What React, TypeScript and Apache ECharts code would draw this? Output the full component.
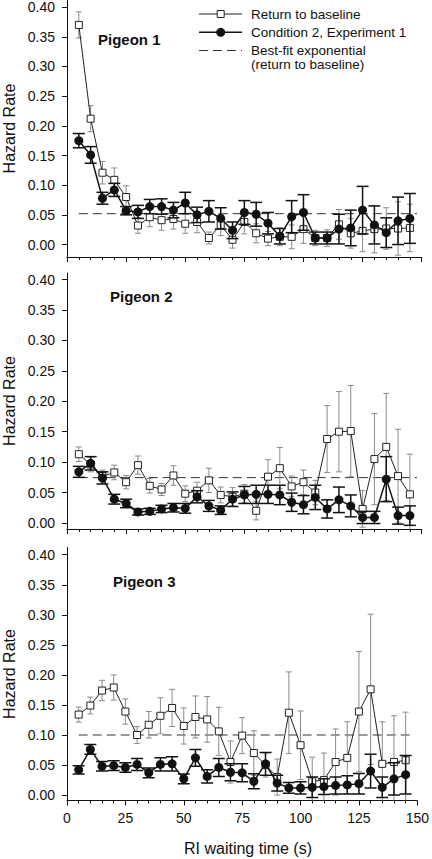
import React, { useEffect, useRef } from "react";
import * as echarts from "echarts";

// RI waiting time (s)
const times = [5, 10, 15, 20, 25, 30, 35, 40, 45, 50, 55, 60, 65, 70, 75, 80, 85, 90, 95, 100, 105, 110, 115, 120, 125, 130, 135, 140, 145];

// Pigeon 1
const p1Base = [0.370, 0.212, 0.121, 0.109, 0.080, 0.032, 0.046, 0.041, 0.043, 0.035, 0.038, 0.011, 0.033, 0.008, 0.038, 0.019, 0.010, 0.013, 0.013, 0.026, 0.011, 0.011, 0.034, 0.019, 0.023, 0.026, 0.027, 0.027, 0.028];
const p1BaseErr = [0.022, 0.022, 0.019, 0.020, 0.019, 0.013, 0.016, 0.017, 0.017, 0.016, 0.018, 0.010, 0.018, 0.014, 0.020, 0.016, 0.012, 0.015, 0.020, 0.024, 0.013, 0.014, 0.025, 0.025, 0.035, 0.040, 0.035, 0.045, 0.040];
const p1Cond = [0.175, 0.151, 0.078, 0.092, 0.057, 0.055, 0.064, 0.064, 0.058, 0.070, 0.050, 0.056, 0.044, 0.024, 0.054, 0.051, 0.036, 0.014, 0.047, 0.054, 0.011, 0.011, 0.026, 0.028, 0.058, 0.033, 0.020, 0.040, 0.044];
const p1CondErr = [0.012, 0.014, 0.010, 0.011, 0.007, 0.011, 0.012, 0.013, 0.013, 0.018, 0.013, 0.018, 0.018, 0.014, 0.020, 0.020, 0.018, 0.013, 0.027, 0.030, 0.010, 0.010, 0.025, 0.030, 0.040, 0.032, 0.025, 0.040, 0.042];

// Pigeon 2
const p2Base = [0.113, 0.096, 0.077, 0.083, 0.067, 0.095, 0.061, 0.055, 0.078, 0.048, 0.053, 0.070, 0.046, 0.043, 0.048, 0.020, 0.076, 0.090, 0.060, 0.067, 0.050, 0.138, 0.150, 0.151, 0.023, 0.105, 0.125, 0.077, 0.047];
const p2BaseErr = [0.012, 0.012, 0.010, 0.012, 0.011, 0.015, 0.012, 0.010, 0.016, 0.013, 0.014, 0.020, 0.013, 0.015, 0.015, 0.015, 0.028, 0.034, 0.017, 0.020, 0.020, 0.055, 0.066, 0.075, 0.030, 0.075, 0.088, 0.077, 0.066];
const p2Cond = [0.084, 0.098, 0.074, 0.039, 0.032, 0.018, 0.019, 0.023, 0.025, 0.024, 0.043, 0.028, 0.021, 0.039, 0.046, 0.047, 0.047, 0.046, 0.034, 0.030, 0.042, 0.023, 0.038, 0.028, 0.009, 0.009, 0.072, 0.012, 0.012];
const p2CondErr = [0.009, 0.011, 0.010, 0.008, 0.007, 0.005, 0.005, 0.006, 0.007, 0.008, 0.010, 0.009, 0.007, 0.012, 0.014, 0.015, 0.015, 0.016, 0.015, 0.015, 0.020, 0.015, 0.021, 0.018, 0.010, 0.010, 0.037, 0.014, 0.016];

// Pigeon 3
const p3Base = [0.134, 0.149, 0.174, 0.179, 0.139, 0.100, 0.117, 0.132, 0.145, 0.115, 0.130, 0.126, 0.106, 0.055, 0.099, 0.070, 0.050, 0.030, 0.137, 0.083, 0.023, 0.025, 0.055, 0.062, 0.139, 0.176, 0.052, 0.055, 0.058];
const p3BaseErr = [0.0125, 0.014, 0.017, 0.021, 0.021, 0.014, 0.022, 0.030, 0.031, 0.030, 0.035, 0.038, 0.040, 0.035, 0.030, 0.037, 0.020, 0.030, 0.068, 0.057, 0.040, 0.045, 0.055, 0.060, 0.100, 0.125, 0.070, 0.077, 0.080];
const p3Cond = [0.042, 0.076, 0.048, 0.049, 0.046, 0.051, 0.037, 0.051, 0.052, 0.027, 0.062, 0.031, 0.046, 0.038, 0.037, 0.023, 0.052, 0.020, 0.012, 0.012, 0.013, 0.014, 0.016, 0.017, 0.019, 0.040, 0.013, 0.027, 0.034];
const p3CondErr = [0.007, 0.008, 0.008, 0.008, 0.008, 0.010, 0.008, 0.011, 0.012, 0.008, 0.014, 0.011, 0.015, 0.014, 0.015, 0.0125, 0.019, 0.013, 0.009, 0.010, 0.017, 0.013, 0.014, 0.015, 0.017, 0.028, 0.017, 0.027, 0.032];

// Best-fit exponential (return to baseline), level per pigeon
const fitLevels = [0.052, 0.0745, 0.1];
const fitRange = [5, 148];

const yTicks = [0, 0.05, 0.1, 0.15, 0.2, 0.25, 0.3, 0.35, 0.4];
const panelNames = ["Pigeon 1", "Pigeon 2", "Pigeon 3"];
const legendNames = ["Return to baseline", "Condition 2, Experiment 1", "Best-fit exponential", "(return to baseline)"];

const panels = [
  { base: p1Base, baseErr: p1BaseErr, cond: p1Cond, condErr: p1CondErr },
  { base: p2Base, baseErr: p2BaseErr, cond: p2Cond, condErr: p2CondErr },
  { base: p3Base, baseErr: p3BaseErr, cond: p3Cond, condErr: p3CondErr },
];

const FONT = "'Liberation Sans', Arial, sans-serif";
const INK = "#111";

// layout
const gridLeft = 67;
const gridWidth = 354.7;
const gridBoxes = [
  { top: 0, height: 257, min: -0.021, max: 0.412 },
  { top: 273, height: 256, min: -0.01, max: 0.411 },
  { top: 547.5, height: 253, min: -0.009, max: 0.412 },
];
const titlePos = [
  [98, 41],
  [110, 298],
  [113, 583],
];

function errorSeries(idx: number, vals: number[], errs: number[], color: string, width: number, cap: number, z: number) {
  return {
    type: "custom",
    xAxisIndex: idx,
    yAxisIndex: idx,
    clip: true,
    z,
    silent: true,
    data: times.map((t, k) => [t, vals[k], errs[k]]),
    renderItem: (params: any, api: any) => {
      const x = api.value(0);
      const y = api.value(1);
      const e = api.value(2);
      const top = api.coord([x, y + e]);
      const bot = api.coord([x, y - e]);
      const h = cap / 2;
      const style = { stroke: color, lineWidth: width };
      return {
        type: "group",
        children: [
          { type: "line", shape: { x1: top[0], y1: top[1], x2: bot[0], y2: bot[1] }, style },
          { type: "line", shape: { x1: top[0] - h, y1: top[1], x2: top[0] + h, y2: top[1] }, style },
          { type: "line", shape: { x1: bot[0] - h, y1: bot[1], x2: bot[0] + h, y2: bot[1] }, style },
        ],
      };
    },
  };
}

export default function App() {
  const ref = useRef<HTMLDivElement>(null);

  useEffect(() => {
    if (!ref.current) return;
    const chart = echarts.init(ref.current, null, { renderer: "svg" });

    const grids = gridBoxes.map((g) => ({ left: gridLeft, width: gridWidth, top: g.top, height: g.height }));

    const xAxes = gridBoxes.map((g, i) => ({
      type: "value",
      gridIndex: i,
      min: 0,
      max: 150,
      interval: 25,
      axisLine: { show: true, onZero: false, lineStyle: { color: INK, width: 1 } },
      axisTick: { show: true, inside: false, length: 5, lineStyle: { color: INK, width: 1 } },
      minorTick: { show: true, splitNumber: 5, length: 3, lineStyle: { color: INK, width: 1 } },
      axisLabel: { show: i === 2, fontSize: 14, fontFamily: FONT, color: INK, margin: 10 },
      splitLine: { show: false },
      minorSplitLine: { show: false },
    }));

    const yAxes = gridBoxes.map((g, i) => ({
      type: "value",
      gridIndex: i,
      min: g.min,
      max: g.max,
      axisLine: { show: true, onZero: false, lineStyle: { color: INK, width: 1 } },
      axisTick: { show: true, inside: false, length: 5, customValues: yTicks, lineStyle: { color: INK, width: 1 } },
      axisLabel: {
        show: true,
        customValues: yTicks,
        formatter: (v: number) => v.toFixed(2),
        fontSize: 14,
        fontFamily: FONT,
        color: INK,
        margin: 12,
      },
      splitLine: { show: false },
    }));

    const series: any[] = [];
    panels.forEach((p, i) => {
      series.push({
        type: "line",
        name: "fit" + i,
        xAxisIndex: i,
        yAxisIndex: i,
        data: fitRange.map((x) => [x, fitLevels[i]]),
        symbol: "none",
        silent: true,
        lineStyle: { color: "#333", width: 1, type: [9, 5] },
        z: 1,
      });
      series.push(errorSeries(i, p.base, p.baseErr, "#8a8a8a", 1, 6, 2));
      series.push({
        type: "line",
        name: legendNames[0],
        xAxisIndex: i,
        yAxisIndex: i,
        data: times.map((t, k) => [t, p.base[k]]),
        symbol: "rect",
        symbolSize: 7,
        showAllSymbol: true,
        itemStyle: { color: "#fff", borderColor: "#222", borderWidth: 1 },
        lineStyle: { color: "#222", width: 1 },
        z: 3,
      });
      series.push(errorSeries(i, p.cond, p.condErr, "#111", 1.5, 12, 4));
      series.push({
        type: "line",
        name: legendNames[1],
        xAxisIndex: i,
        yAxisIndex: i,
        data: times.map((t, k) => [t, p.cond[k]]),
        symbol: "circle",
        symbolSize: 9,
        showAllSymbol: true,
        itemStyle: { color: "#111", borderColor: "#111", borderWidth: 0 },
        lineStyle: { color: "#111", width: 1.5 },
        z: 5,
      });
    });

    const graphics: any[] = [];
    // panel titles and y names
    gridBoxes.forEach((g, i) => {
      graphics.push({
        type: "text",
        left: titlePos[i][0],
        top: titlePos[i][1] - 9,
        style: { text: panelNames[i], font: `bold 15px ${FONT}`, fill: INK },
        silent: true,
      });
      graphics.push({
        type: "text",
        x: 9,
        y: g.top + g.height / 2,
        rotation: Math.PI / 2,
        style: {
          text: "Hazard Rate",
          font: `16px ${FONT}`,
          fill: INK,
          align: "center",
          verticalAlign: "middle",
        },
        silent: true,
      });
    });
    graphics.push({
      type: "text",
      x: 248,
      y: 848,
      style: { text: "RI waiting time (s)", font: `16px ${FONT}`, fill: INK, align: "center", verticalAlign: "middle" },
      silent: true,
    });

    // legend
    const lx1 = 199;
    const lx2 = 242;
    const lmx = 220.7;
    const tx = 251;
    const rows = [14, 32.3, 50.5];
    graphics.push({ type: "line", shape: { x1: lx1, y1: rows[0], x2: lx2, y2: rows[0] }, style: { stroke: "#222", lineWidth: 1 } });
    graphics.push({ type: "rect", shape: { x: lmx - 3.5, y: rows[0] - 3.5, width: 7, height: 7 }, style: { fill: "#fff", stroke: "#222", lineWidth: 1 } });
    graphics.push({ type: "line", shape: { x1: lx1, y1: rows[1], x2: lx2, y2: rows[1] }, style: { stroke: "#111", lineWidth: 1.5 } });
    graphics.push({ type: "circle", shape: { cx: lmx, cy: rows[1], r: 4.5 }, style: { fill: "#111" } });
    graphics.push({ type: "line", shape: { x1: lx1, y1: rows[2], x2: lx2, y2: rows[2] }, style: { stroke: "#333", lineWidth: 1, lineDash: [9, 5] } });
    const legendText = [
      [legendNames[0], 14],
      [legendNames[1], 32.3],
      [legendNames[2], 50.5],
      [legendNames[3], 64.5],
    ];
    legendText.forEach(([t, y]) => {
      graphics.push({
        type: "text",
        x: tx,
        y: y as number,
        style: { text: t as string, font: `13.5px ${FONT}`, fill: INK, align: "left", verticalAlign: "middle" },
        silent: true,
      });
    });

    chart.setOption({
      animation: false,
      backgroundColor: "#fff",
      grid: grids,
      xAxis: xAxes,
      yAxis: yAxes,
      series,
      graphic: graphics,
    });

    return () => chart.dispose();
  }, []);

  return (
    <div
      ref={ref}
      style={{ position: "fixed", left: 0, top: 0, width: 432, height: 859, background: "#fff" }}
    />
  );
}
